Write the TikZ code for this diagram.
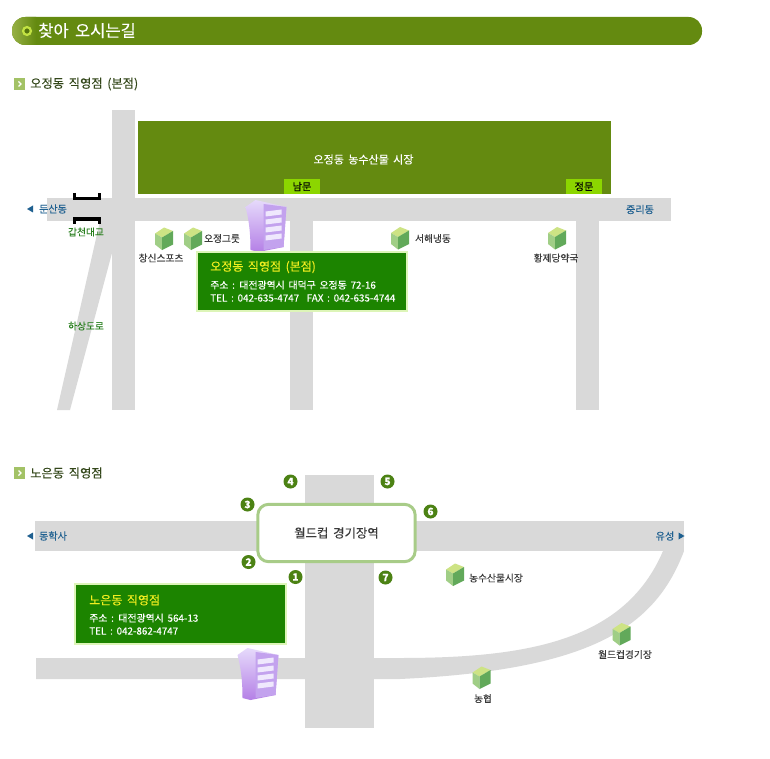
\documentclass[tikz,border=0pt]{standalone}
\usepackage{fontspec}
\setmainfont[WordSpace=1.7,FakeBold=0.12]{Noto Sans CJK KR}
\definecolor{barg}{HTML}{648A10}
\definecolor{roadg}{HTML}{D9D9D9}
\definecolor{gatebg}{HTML}{8CD600}
\definecolor{infog}{HTML}{1C8400}
\definecolor{infoe}{HTML}{DDF5B8}
\definecolor{rimg}{HTML}{A8CC88}
\definecolor{numg}{HTML}{4C8214}
\definecolor{blueT}{HTML}{1F6090}
\definecolor{greenT}{HTML}{2A8020}
\definecolor{grayT}{HTML}{3A3A3A}
\definecolor{headT}{HTML}{33471A}
\definecolor{yelT}{HTML}{F2EE20}
\definecolor{cubeTop}{HTML}{CDE384}
\definecolor{cubeL}{HTML}{A0CE86}
\definecolor{cubeR}{HTML}{62A95A}
\definecolor{markG}{HTML}{A3C266}
\definecolor{bldA}{HTML}{E6DAFB}
\definecolor{bldB}{HTML}{CDB2F2}
\definecolor{bldC}{HTML}{B47FE6}
\definecolor{bldD}{HTML}{C3A2EE}
\definecolor{bldW}{HTML}{EFE8FD}
\tikzset{
  road/.style={fill=roadg,draw=none},
  lab/.style={inner sep=0pt,font=\fontsize{7.3}{9}\selectfont,text=grayT},
  bluelab/.style={lab,text=blueT,font=\fontsize{7.6}{9}\selectfont},
  greenlab/.style={lab,text=greenT},
  whitelab/.style={lab,text=white,font=\fontsize{8.3}{10}\selectfont},
  head/.style={inner sep=0pt,anchor=west,text=headT,font=\fontsize{9.2}{11}\selectfont},
  infohead/.style={inner sep=0pt,anchor=west,text=yelT,font=\fontsize{9}{11}\selectfont},
  infoline/.style={inner sep=0pt,anchor=west,text=white,font=\fontsize{7.4}{9}\selectfont},
  infobox/.style={fill=infog,draw=infoe,line width=1.3pt},
  gatebox/.style={fill=gatebg,minimum width=27pt,minimum height=11.25pt,inner sep=0pt,text=black,font=\fontsize{7.6}{9}\selectfont},
  numc/.style={circle,fill=numg,text=white,inner sep=0pt,minimum size=10.5pt,font=\fontsize{7.6}{8}\selectfont\bfseries},
  cubeicon/.pic={
    \fill[cubeTop] (0,-11.5) -- (9,-8) -- (-2,-1.5) -- (-9,-5.5) -- cycle;
    \fill[cubeL] (-9,-5.5) -- (-2,-1.5) -- (-2,11) -- (-9,5.5) -- cycle;
    \fill[cubeR] (-2,-1.5) -- (9,-8) -- (9,5.5) -- (-2,11) -- cycle;
  },
  buildicon/.pic={
    \shade[top color=bldA,bottom color=bldC]
      (-20,-19) -- (-10,-26) -- (21,-19) -- (18,21) -- (-7,26) -- (-15,24) .. controls (-15,5) and (-17,-8) .. (-20,-19) -- cycle;
    \fill[bldD] (-2,-22) -- (21,-19) -- (18,21) -- (-2,24) -- cycle;
    \foreach \q in {-15,-7,1,9}{
      \fill[bldW] (0,\q+0.5) -- (16,\q-1.5) -- (16,\q+3.5) -- (0,\q+5.5) -- cycle;
    }
  },
}
\begin{document}
\begin{tikzpicture}[x=0.75pt,y=-0.75pt]
\useasboundingbox (0,0) rectangle (770,759);
\fill[white] (0,0) rectangle (770,759);

% title bar
\fill[barg,rounded corners=10pt] (12,17) rectangle (702,45);
\begin{scope}
  \clip[rounded corners=10pt] (12,17) rectangle (60,45);
  \shade[left color=barg!75!white!90!yellow,right color=barg] (12,17) rectangle (36,45);
\end{scope}
\draw[draw=yellow!70!green!80!white,line width=1.7pt,fill=barg!85!black] (27,31) circle (3.9);
\node[inner sep=0pt,anchor=west,text=white,font=\fontsize{12.4}{15}\selectfont] (title) at (38,30.5) {찾아 오시는길};

% section 1
\fill[markG] (14,78) rectangle (25,90);
\draw[white,line width=.9pt] (18.5,81.5) -- (21,84) -- (18.5,86.5);
\node[head] (sec1) at (30,84) {오정동 직영점 (본점)};

% roads map 1
\fill[road] (112,110) rectangle (135,410);
\fill[road] (47,198) rectangle (671,221);
\fill[road] (290,221) rectangle (313,410);
\fill[road] (576,221) rectangle (599,410);
\fill[road] (57,410) -- (70,410) -- (112,253) -- (112,221) -- (100,221) -- cycle;

% market
\fill[barg] (138,121) rectangle (611,194);
\node[whitelab] (market) at (363.5,159.5) {오정동 농수산물 시장};
\node[gatebox] (south) at (302,186.5) {남문};
\node[gatebox] (front) at (584,186.5) {정문};

% bridge
\draw[black,line width=2.5pt] (74.5,193) -- (74.5,198.5) -- (99.5,198.5) -- (99.5,193);
\draw[black,line width=2.5pt] (74.5,224) -- (74.5,219) -- (99.5,219) -- (99.5,224);

% labels map 1
\fill[blueT] (27,209) -- (33,205.5) -- (33,212.5) -- cycle;
\node[bluelab] (dunsan) at (53,209) {둔산동};
\node[bluelab] (jungri) at (640,209.5) {중리동};
\node[greenlab] (gapcheon) at (86,232) {갑천대교};
\node[greenlab] (hasang) at (86,326) {하상도로};
\node[lab] (changsin) at (161,258) {창신스포츠};
\node[lab] (ojgroup) at (222,238.5) {오정그룻};
\node[lab] (seohae) at (433,238.5) {서해냉동};
\node[lab] (hwangje) at (556,258) {황제당약국};

\pic at (164,239) {cubeicon};
\pic at (193,239) {cubeicon};
\pic at (400,238.5) {cubeicon};
\pic at (557,238.5) {cubeicon};
\pic at (265.5,226) {buildicon};

% info box 1
\draw[infobox] (197,252) rectangle (407,311);
\node[infohead] (ih1) at (210,267) {오정동 직영점 (본점)};
\node[infoline] (ia1) at (210,285) {주소 : 대전광역시 대덕구 오정동 72-16};
\node[infoline] (it1) at (210,298) {TEL : 042-635-4747\ \ FAX : 042-635-4744};

% section 2
\fill[markG] (14,467) rectangle (25,479);
\draw[white,line width=.9pt] (18.5,470.5) -- (21,473) -- (18.5,475.5);
\node[head] (sec2) at (30,473) {노은동 직영점};

% roads map 2
\fill[road] (305,475) rectangle (374,728);
\fill[road] (35,521) rectangle (684,551);
\fill[road] (36,658) -- (400,658) .. controls (530,658) and (625,640) .. (663,551) -- (684,551)
   .. controls (655,628) and (590,670) .. (400,679) -- (36,679) -- cycle;

\node[draw=rimg,line width=2.2pt,fill=white,rounded corners=8pt,minimum width=118pt,minimum height=43pt,inner sep=0pt,text=grayT,font=\fontsize{9.3}{11}\selectfont] (stn) at (336.5,533) {월드컵 경기장역};

\node[numc] (n1) at (295.5,577) {1};
\node[numc] (n2) at (248.5,562) {2};
\node[numc] (n3) at (247.5,504.5) {3};
\node[numc] (n4) at (290.5,481.5) {4};
\node[numc] (n5) at (387.5,481.5) {5};
\node[numc] (n6) at (430.5,511.5) {6};
\node[numc] (n7) at (385.5,577.5) {7};

\fill[blueT] (27,536) -- (33,532.5) -- (33,539.5) -- cycle;
\node[bluelab] (donghak) at (53,536) {동학사};
\node[bluelab] (yuseong) at (665,536) {유성};
\fill[blueT] (684.5,536) -- (678.5,532.5) -- (678.5,539.5) -- cycle;
\node[lab] (nongsu) at (496,578) {농수산물시장};
\node[lab] (wcstad) at (625,654.5) {월드컵경기장};
\node[lab] (nh) at (483,698.5) {농협};

\pic at (455,575) {cubeicon};
\pic at (621.5,634.5) {cubeicon};
\pic at (481.5,678) {cubeicon};
\pic at (257.5,674) {buildicon};

% info box 2
\draw[infobox] (75,584) rectangle (286,644);
\node[infohead] (ih2) at (89,600) {노은동 직영점};
\node[infoline] (ia2) at (89,618) {주소 : 대전광역시 564-13};
\node[infoline] (it2) at (89,631) {TEL : 042-862-4747};
\end{tikzpicture}
\end{document}
